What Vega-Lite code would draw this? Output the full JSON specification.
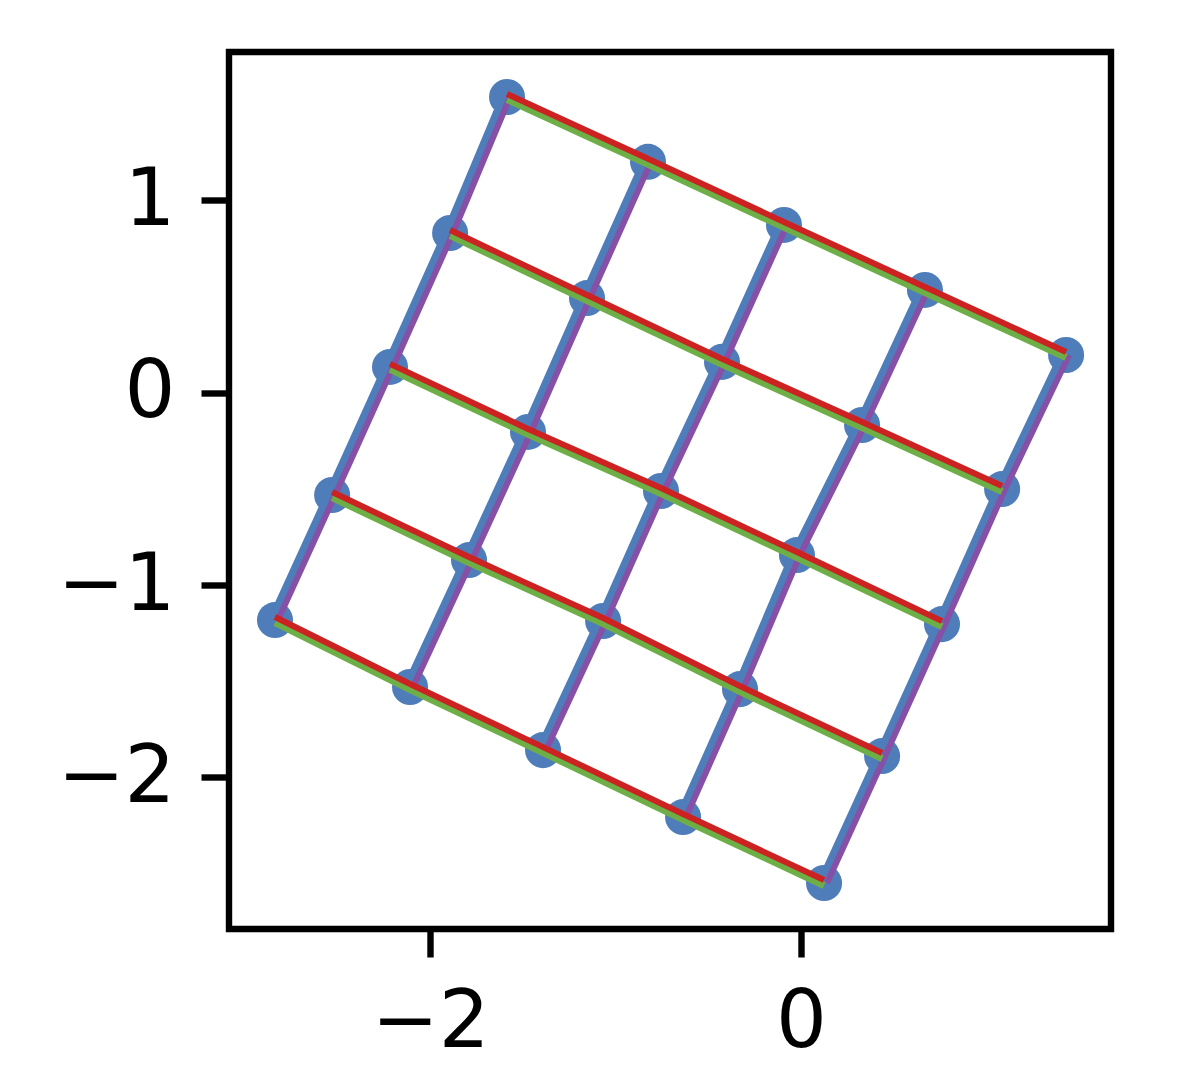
{
  "$schema": "https://vega.github.io/schema/vega-lite/v6.json",
  "autosize": "none",
  "padding": {"left": 229, "top": 52, "right": 85, "bottom": 163},
  "width": 882,
  "height": 877,
  "background": "white",
  "config": {
    "view": {"stroke": "black", "strokeWidth": 6.4},
    "font": "DejaVu Sans",
    "axis": {
      "grid": false,
      "domain": false,
      "ticks": true,
      "tickColor": "black",
      "tickWidth": 6.4,
      "tickSize": 28,
      "labelFont": "DejaVu Sans",
      "labelFontSize": 80,
      "labelColor": "black",
      "labelPadding": 26,
      "title": null
    }
  },
  "data": {
    "values": [
      {"row": 0, "col": 0, "x": -1.585, "y": 1.537},
      {"row": 0, "col": 1, "x": -0.825, "y": 1.200},
      {"row": 0, "col": 2, "x": -0.092, "y": 0.872},
      {"row": 0, "col": 3, "x": 0.668, "y": 0.534},
      {"row": 0, "col": 4, "x": 1.429, "y": 0.196},
      {"row": 1, "col": 0, "x": -1.892, "y": 0.830},
      {"row": 1, "col": 1, "x": -1.154, "y": 0.492},
      {"row": 1, "col": 2, "x": -0.426, "y": 0.160},
      {"row": 1, "col": 3, "x": 0.329, "y": -0.168},
      {"row": 1, "col": 4, "x": 1.084, "y": -0.501},
      {"row": 2, "col": 0, "x": -2.216, "y": 0.134},
      {"row": 2, "col": 1, "x": -1.472, "y": -0.204},
      {"row": 2, "col": 2, "x": -0.755, "y": -0.511},
      {"row": 2, "col": 3, "x": -0.022, "y": -0.844},
      {"row": 2, "col": 4, "x": 0.760, "y": -1.203},
      {"row": 3, "col": 0, "x": -2.528, "y": -0.532},
      {"row": 3, "col": 1, "x": -1.790, "y": -0.870},
      {"row": 3, "col": 2, "x": -1.067, "y": -1.187},
      {"row": 3, "col": 3, "x": -0.329, "y": -1.541},
      {"row": 3, "col": 4, "x": 0.437, "y": -1.889},
      {"row": 4, "col": 0, "x": -2.836, "y": -1.182},
      {"row": 4, "col": 1, "x": -2.108, "y": -1.530},
      {"row": 4, "col": 2, "x": -1.391, "y": -1.858},
      {"row": 4, "col": 3, "x": -0.636, "y": -2.206},
      {"row": 4, "col": 4, "x": 0.124, "y": -2.549}
    ]
  },
  "encoding": {
    "x": {"field": "x", "type": "quantitative", "scale": {"domain": [-3.084, 1.671], "nice": false, "zero": false}, "axis": {"values": [-2, 0], "format": "d"}},
    "y": {"field": "y", "type": "quantitative", "scale": {"domain": [-2.788, 1.771], "nice": false, "zero": false}, "axis": {"values": [-2, -1, 0, 1], "format": "d"}}
  },
  "layer": [
    {"mark": {"type": "circle", "size": 1300, "color": "#4f7dba", "opacity": 1}},
    {"mark": {"type": "line", "color": "#4f7dba", "strokeWidth": 11, "xOffset": -2}, "encoding": {"detail": {"field": "col"}, "order": {"field": "row", "sort": "descending"}}},
    {"mark": {"type": "line", "color": "#8550a5", "strokeWidth": 6, "xOffset": 3}, "encoding": {"detail": {"field": "col"}, "order": {"field": "row", "sort": "descending"}}},
    {"mark": {"type": "line", "color": "#6daf46", "strokeWidth": 7, "yOffset": 2.5}, "encoding": {"detail": {"field": "row"}, "order": {"field": "col"}}},
    {"mark": {"type": "line", "color": "#cc2222", "strokeWidth": 6, "yOffset": -3}, "encoding": {"detail": {"field": "row"}, "order": {"field": "col"}}}
  ]
}
